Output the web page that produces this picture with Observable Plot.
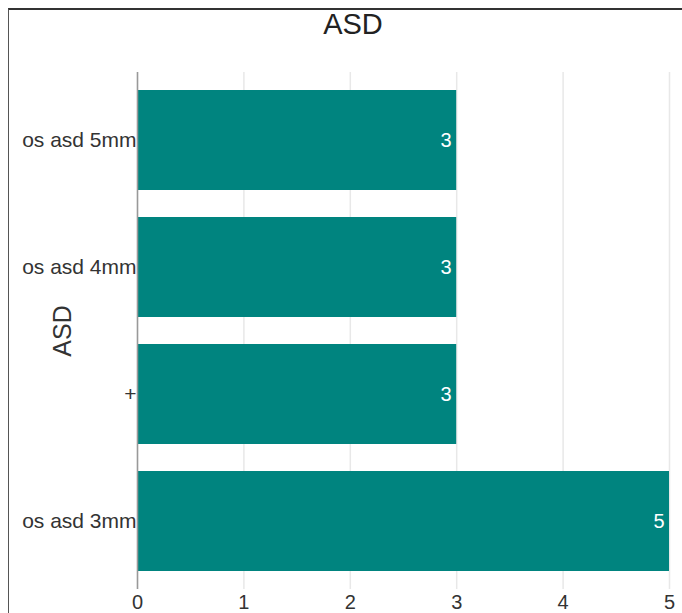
<!DOCTYPE html>
<html>
<head>
<meta charset="utf-8">
<script src="https://cdn.jsdelivr.net/npm/d3@7"></script>
<script src="https://cdn.jsdelivr.net/npm/@observablehq/plot@0.6"></script>
<style>
  html, body { margin: 0; padding: 0; background: #fff; }
  #wrap {
    position: relative;
    width: 682px;
    height: 613px;
    overflow: hidden;
    font-family: "Liberation Sans", Arial, sans-serif;
  }
  #frame {
    position: absolute;
    left: 8px;
    top: 8px;
    width: 700px;
    height: 700px;
    border-top: 2px solid #333;
    border-left: 1.5px solid #555;
    box-sizing: border-box;
  }
  #title {
    position: absolute;
    left: 0;
    top: 10px;
    width: 706px;
    text-align: center;
    font-size: 29px;
    line-height: 29px;
    color: #222;
  }
  #chart { position: absolute; left: 0; top: 0; }
</style>
</head>
<body>
<div id="wrap">
  <div id="frame"></div>
  <div id="chart"></div>
  <div id="title">ASD</div>
</div>
<script>
// Categories listed top to bottom, with their counts
const categories = ["os asd 5mm", "os asd 4mm", "+", "os asd 3mm"];
const counts = [3, 3, 3, 5];
const xTicks = [0, 1, 2, 3, 4, 5];

const rows = categories.map((c, i) => ({category: c, count: counts[i]}));

const chart = Plot.plot({
  width: 682,
  height: 613,
  marginLeft: 137,
  marginRight: 13,
  marginTop: 72,
  marginBottom: 24,
  style: {fontFamily: "Liberation Sans, Arial, sans-serif", fontSize: "20px", color: "#333", background: "transparent"},
  x: {domain: [0, 5], ticks: xTicks, label: null},
  y: {domain: categories, paddingInner: 0.2126, paddingOuter: 0.1417, label: null},
  marks: [
    Plot.gridX(xTicks, {stroke: "#e8e8e8", strokeOpacity: 1, strokeWidth: 1.5}),
    Plot.barX(rows, {x: "count", y: "category", fill: "#00847f"}),
    Plot.ruleX([0], {stroke: "#999", strokeWidth: 1.5}),
    Plot.text(rows, {
      x: "count", y: "category", text: d => String(d.count),
      textAnchor: "end", dx: -5, fill: "white", fontSize: 20
    }),
    Plot.axisX(xTicks, {tickSize: 0, tickPadding: 5, fontSize: 20, fill: "#333"}),
    Plot.axisY({tickSize: 0, tickPadding: 1, fontSize: 21, fill: "#333", label: null}),
    Plot.text(["ASD"], {
      frameAnchor: "left", textAnchor: "middle", dx: -75, rotate: -90, fontSize: 25, fill: "#333"
    })
  ]
});
document.getElementById("chart").appendChild(chart);
</script>
</body>
</html>
